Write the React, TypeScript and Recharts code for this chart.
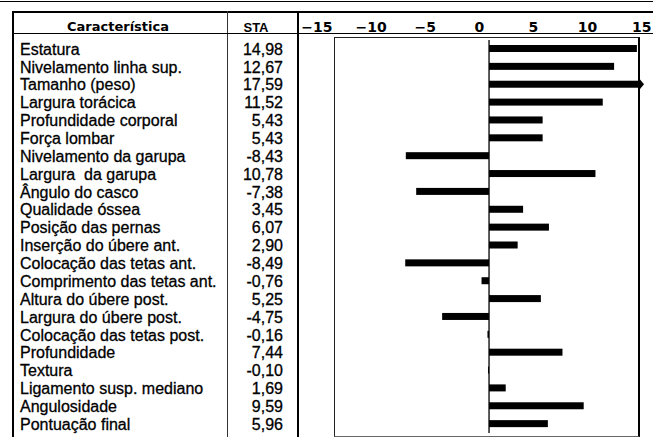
import { BarChart, Bar, XAxis, YAxis, ReferenceLine } from "recharts";

const traits = [
  "Estatura",
  "Nivelamento linha sup.",
  "Tamanho (peso)",
  "Largura torácica",
  "Profundidade corporal",
  "Força lombar",
  "Nivelamento da garupa",
  "Largura  da garupa",
  "Ângulo do casco",
  "Qualidade óssea",
  "Posição das pernas",
  "Inserção do úbere ant.",
  "Colocação das tetas ant.",
  "Comprimento das tetas ant.",
  "Altura do úbere post.",
  "Largura do úbere post.",
  "Colocação das tetas post.",
  "Profundidade",
  "Textura",
  "Ligamento susp. mediano",
  "Angulosidade",
  "Pontuação final",
];

const staValues = [
  14.98, 12.67, 17.59, 11.52, 5.43, 5.43, -8.43, 10.78, -7.38, 3.45, 6.07,
  2.9, -8.49, -0.76, 5.25, -4.75, -0.16, 7.44, -0.1, 1.69, 9.59, 5.96,
];

const axisTicks = [-15, -10, -5, 0, 5, 10, 15];

const rows = traits.map((name, i) => ({ name, sta: staValues[i] }));

const fmt = (v: number) => v.toFixed(2).replace(".", ",");

const textFont = "'Liberation Sans', Arial, sans-serif";

function RowTick({ y, payload }: any) {
  const v = staValues[payload.index];
  return (
    <g fontFamily={textFont} fontSize={16} fill="#000" stroke="#000" strokeWidth={0.3}>
      <text x={20} y={y} dy="0.36em" style={{ whiteSpace: "pre" }}>
        {payload.value}
      </text>
      <text x={283} y={y} dy="0.36em" textAnchor="end">
        {fmt(v)}
      </text>
    </g>
  );
}

function HeaderTick({ x, payload }: any) {
  const v = payload.value as number;
  return (
    <text
      x={x}
      y={32}
      textAnchor="middle"
      fontFamily="'DejaVu Sans', sans-serif"
      fontWeight="bold"
      fontSize={14}
      fill="#000"
    >
      {v < 0 ? "\u2212" + Math.abs(v) : String(v)}
    </text>
  );
}

// bars that run past the plot edge get an arrow head
function BarShape(props: any) {
  let { x, y, width, height } = props;
  if (width < 0) {
    x += width;
    width = -width;
  }
  const bg = props.background;
  const edge = bg ? bg.x + bg.width : 645;
  if (x + width > edge - 1) {
    const end = edge - 6;
    const mid = y + height / 2;
    return (
      <g>
        <rect x={x} y={y} width={end - x} height={height} fill="#000" />
        <polygon
          points={`${end},${y - 2.5} ${edge - 1},${mid} ${end},${y + height + 2.5}`}
          fill="#000"
        />
      </g>
    );
  }
  return <rect x={x} y={y} width={width} height={height} fill="#000" />;
}

const line = (style: React.CSSProperties): React.CSSProperties => ({
  position: "absolute",
  background: "#000",
  ...style,
});

export default function App() {
  return (
    <div
      style={{
        position: "absolute",
        left: 0,
        top: 0,
        width: 653,
        height: 437,
        background: "#fff",
        overflow: "hidden",
      }}
    >
      {/* table rules */}
      <div style={line({ left: 0, top: 1, width: 653, height: 1 })} />
      <div style={line({ left: 12, top: 11, width: 641, height: 2 })} />
      <div style={line({ left: 12, top: 11, width: 2, height: 426 })} />
      <div style={line({ left: 227, top: 11, width: 1, height: 426, background: "#333" })} />
      <div style={line({ left: 297, top: 11, width: 2, height: 426 })} />
      <div style={line({ left: 12, top: 33, width: 641, height: 1 })} />
      <div
        style={{
          position: "absolute",
          left: 334,
          top: 37,
          width: 303,
          height: 398,
          borderLeft: "1px solid #222",
          borderTop: "1px solid #222",
          borderBottom: "1px solid #666",
          borderRight: "2px solid #000",
        }}
      />
      <div
        style={{
          position: "absolute",
          left: 0,
          top: 0,
          width: 653,
          height: 437,
        }}
      >
        <svg
          width={653}
          height={40}
          style={{ position: "absolute", left: 0, top: 0 }}
        >
          <text
            x={118}
            y={31}
            textAnchor="middle"
            fontFamily="'DejaVu Sans', sans-serif"
            fontWeight="bold"
            fontSize={13}
            fill="#000"
          >
            Característica
          </text>
          <text
            x={256}
            y={32}
            textAnchor="middle"
            fontFamily={textFont}
            fontWeight="bold"
            fontSize={13}
            fill="#000"
          >
            STA
          </text>
        </svg>
        <BarChart
          width={653}
          height={437}
          data={rows}
          layout="vertical"
          margin={{ top: 20, right: 8, bottom: 4, left: 0 }}
          style={{ position: "absolute", left: 0, top: 0 }}
        >
          <XAxis
            type="number"
            dataKey="sta"
            domain={[-19.15, 15.8]}
            allowDataOverflow
            hide
          />
          <XAxis
            xAxisId="hdr"
            type="number"
            orientation="top"
            height={20}
            domain={[-16.56, 15.3]}
            allowDataOverflow
            ticks={axisTicks}
            interval={0}
            axisLine={false}
            tickLine={false}
            tick={<HeaderTick />}
          />
          <YAxis
            type="category"
            dataKey="name"
            width={300}
            axisLine={false}
            tickLine={false}
            interval={0}
            tick={<RowTick />}
          />
          <ReferenceLine x={0} stroke="#000" strokeWidth={1.3} />
          <Bar
            dataKey="sta"
            fill="#000"
            barSize={7}
            shape={<BarShape />}
            isAnimationActive={false}
          />
        </BarChart>
      </div>
    </div>
  );
}
